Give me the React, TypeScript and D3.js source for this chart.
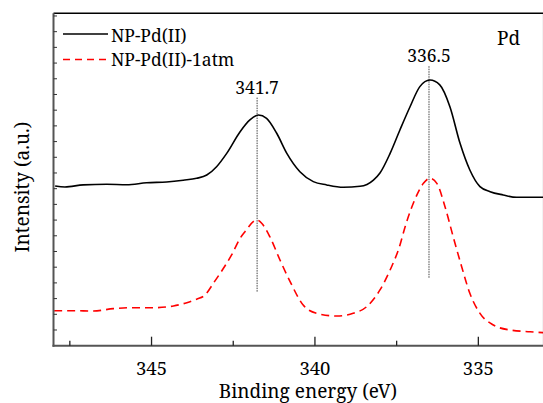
import React from "react"
import * as d3 from "d3"

// binding energy (eV) and intensity (a.u.)
const npPdEnergy = [347.95, 347.65, 347.09, 346.37, 345.76, 345.15, 344.54, 344.03, 343.62, 343.31, 343.01, 342.70, 342.29, 341.99, 341.73, 341.48, 341.17, 340.86, 340.46, 340.05, 339.64, 339.13, 338.62, 338.21, 338.01, 337.70, 337.40, 337.09, 336.79, 336.48, 336.18, 335.87, 335.56, 335.26, 334.95, 334.64, 334.24, 333.83, 333.42, 333.0]
const npPdIntensity = [10.17, 10.11, 10.24, 10.28, 10.25, 10.38, 10.43, 10.54, 10.66, 10.87, 11.40, 12.25, 13.63, 14.38, 14.69, 14.48, 13.53, 12.25, 11.08, 10.45, 10.24, 10.09, 10.15, 10.55, 11.0, 12.25, 13.74, 15.22, 16.50, 16.92, 16.61, 15.22, 12.89, 11.19, 10.13, 9.81, 9.60, 9.45, 9.45, 9.45]

const atmEnergy = [347.98, 347.39, 346.78, 346.17, 345.56, 344.95, 344.33, 343.92, 343.62, 343.36, 343.11, 342.80, 342.55, 342.29, 342.14, 341.78, 341.63, 341.38, 341.07, 340.76, 340.36, 339.95, 339.33, 338.83, 338.42, 338.01, 337.70, 337.40, 337.24, 336.99, 336.68, 336.48, 336.27, 336.02, 335.77, 335.51, 335.26, 334.95, 334.54, 334.03, 333.42, 333.0]
const atmIntensity = [2.23, 2.23, 2.21, 2.36, 2.42, 2.42, 2.53, 2.74, 2.96, 3.23, 3.97, 4.93, 5.78, 6.84, 7.26, 8.01, 7.80, 6.94, 5.46, 4.08, 2.59, 2.06, 1.89, 2.06, 2.48, 3.55, 4.82, 6.40, 7.58, 9.07, 10.34, 10.66, 10.34, 8.85, 6.94, 5.03, 3.34, 2.06, 1.32, 1.00, 0.89, 0.83]

const peakEnergy = [341.77, 336.51]
const peakLabels = ["341.7", "336.5"]
const peakTop = [15.8, 17.8]
const peakBottom = [3.44, 4.32]

const seriesNames = ["NP-Pd(II)", "NP-Pd(II)-1atm"]
const xTickValues = [345, 340, 335]
const xMinorValues = [347.5, 342.5, 337.5]

const W = 543
const H = 403
const left = 53.5
const right = 543.7
const top = 13.3
const bottom = 345.7
const font = "Noto Serif, DejaVu Serif, serif"

export default function App() {
  const x = d3.scaleLinear().domain([348, 333]).range([left, right])
  const y = d3.scaleLinear().domain([0, 21.17]).range([bottom, top])

  // x decreases to the right, so feed points in screen order for monotoneX
  const path = (xs: number[], ys: number[]) =>
    d3.line<number>()
      .x(i => x(xs[i]))
      .y(i => y(ys[i]))
      .curve(d3.curveMonotoneX)(d3.range(xs.length)) || ""

  const yTicks = d3.range(1, 22)

  return (
    <svg width={W} height={H} style={{ position: "absolute", left: 0, top: 0, fontFamily: font }}>
      <rect width={W} height={H} fill="#fff" />
      {/* peak markers */}
      {peakEnergy.map((e, i) => (
        <g key={i}>
          <line x1={x(e)} x2={x(e)} y1={y(peakTop[i])} y2={y(peakBottom[i])} stroke="#444" strokeWidth={1} strokeDasharray="1.5,1" />
          <text x={x(e)} y={y(peakTop[i]) - 4} fontSize={17.5} textAnchor="middle">{peakLabels[i]}</text>
        </g>
      ))}
      <path d={path(npPdEnergy, npPdIntensity)} fill="none" stroke="#000" strokeWidth={1.6} />
      <path d={path(atmEnergy, atmIntensity)} fill="none" stroke="#ff0000" strokeWidth={1.6} strokeDasharray="8,5" />

      {/* frame */}
      <line x1={left} x2={right} y1={top} y2={top} stroke="#000" strokeWidth={1.5} />
      <line x1={right} x2={right} y1={top} y2={bottom} stroke="#000" strokeWidth={1.5} />
      <line x1={left} x2={left} y1={top} y2={bottom + 1} stroke="#555" strokeWidth={2} />
      <line x1={left - 1} x2={right} y1={bottom} y2={bottom} stroke="#555" strokeWidth={2} />
      {yTicks.map(t => (
        <line key={t} x1={left} x2={left + 3.5} y1={y(t)} y2={y(t)} stroke="#333" strokeWidth={1} />
      ))}
      {xTickValues.map(t => (
        <g key={t}>
          <line x1={x(t)} x2={x(t)} y1={bottom} y2={bottom - 9} stroke="#222" strokeWidth={1.3} />
          <text x={x(t)} y={375} fontSize={18.5} textAnchor="middle">{t}</text>
        </g>
      ))}
      {xMinorValues.map(t => (
        <line key={t} x1={x(t)} x2={x(t)} y1={bottom} y2={bottom - 5} stroke="#222" strokeWidth={1.3} />
      ))}

      <text x={308} y={398} fontSize={19} textAnchor="middle">Binding energy (eV)</text>
      <text transform={`translate(29,187) rotate(-90)`} fontSize={19} textAnchor="middle">Intensity (a.u.)</text>

      {/* legend */}
      <line x1={63} x2={108} y1={34} y2={34} stroke="#000" strokeWidth={1.5} />
      <text x={111} y={42} fontSize={17.5}>{seriesNames[0]}</text>
      <line x1={63} x2={108} y1={59.5} y2={59.5} stroke="#ff0000" strokeWidth={1.5} strokeDasharray="7,5" />
      <text x={111} y={66} fontSize={17.5}>{seriesNames[1]}</text>
      <text x={497} y={44.5} fontSize={19}>Pd</text>
    </svg>
  )
}
